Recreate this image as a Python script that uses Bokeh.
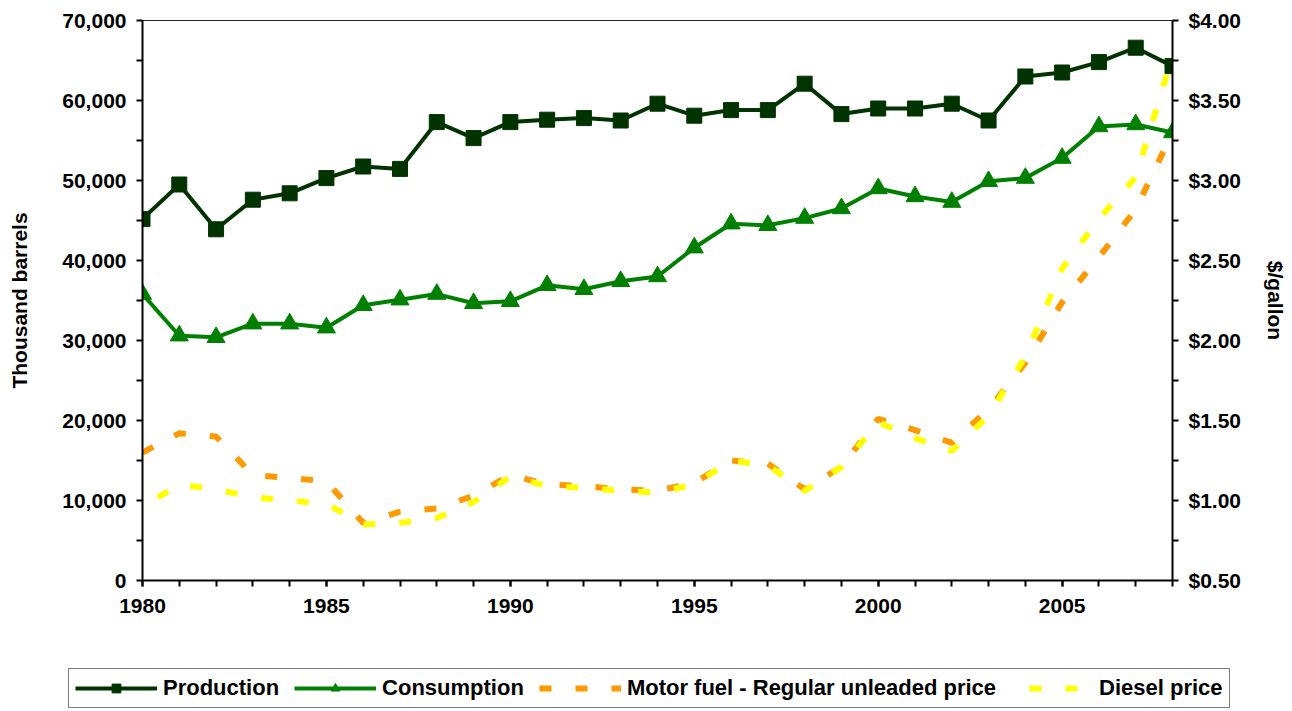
from bokeh.plotting import figure
from bokeh.models import (Range1d, LinearAxis, FixedTicker, NumeralTickFormatter,
                          Legend, LegendItem)
from bokeh.embed import file_html
from bokeh.resources import INLINE

# ---- data ----
years = list(range(1980, 2009))
production = [45200, 49500, 43900, 47600, 48400, 50300, 51750, 51450, 57300, 55300,
              57300, 57600, 57800, 57500, 59600, 58100, 58800, 58800, 62100, 58300,
              59000, 59000, 59600, 57500, 63000, 63500, 64800, 66600, 64300]
consumption = [35800, 30600, 30400, 32100, 32100, 31600, 34400, 35100, 35800, 34650,
               34900, 36900, 36400, 37400, 38000, 41600, 44600, 44400, 45300, 46500,
               49000, 48000, 47300, 49900, 50300, 52800, 56750, 57000, 56000]
motor_fuel_price = [1.30, 1.42, 1.40, 1.16, 1.14, 1.12, 0.86, 0.93, 0.95, 1.03,
                    1.16, 1.10, 1.09, 1.07, 1.06, 1.11, 1.25, 1.23, 1.07, 1.21,
                    1.51, 1.44, 1.36, 1.57, 1.86, 2.24, 2.52, 2.82, 3.30]
diesel_price = [0.96, 1.10, 1.07, 1.02, 1.00, 0.98, 0.85, 0.86, 0.89, 0.99,
                1.15, 1.09, 1.08, 1.06, 1.05, 1.10, 1.25, 1.22, 1.06, 1.21,
                1.49, 1.39, 1.31, 1.53, 1.90, 2.45, 2.76, 3.02, 3.78]
series_labels = ["Production", "Consumption",
                 "Motor fuel - Regular unleaded price", "Diesel price"]

x_major_ticks = [1980, 1985, 1990, 1995, 2000, 2005]
left_ticks = [0, 10000, 20000, 30000, 40000, 50000, 60000, 70000]
left_minor = [5000, 15000, 25000, 35000, 45000, 55000, 65000]
right_ticks = [0.5, 1.0, 1.5, 2.0, 2.5, 3.0, 3.5, 4.0]
right_minor = [0.75, 1.25, 1.75, 2.25, 2.75, 3.25, 3.75]

FONT = "Liberation Sans"


def draw_series(fig):
    pl = fig.line(years, production, line_color="#003300", line_width=4)
    pp = fig.scatter(years, production, marker="square", size=15,
                     fill_color="#003300", line_color="#003300")
    cl = fig.line(years, consumption, line_color="#008000", line_width=4)
    cp = fig.scatter(years, consumption, marker="triangle", size=18,
                     fill_color="#008000", line_color="#008000")
    ml = fig.line(years, motor_fuel_price, y_range_name="price",
                  line_color="#FF9900", line_width=6, line_dash="12 24")
    dl = fig.line(years, diesel_price, y_range_name="price",
                  line_color="#FFFF00", line_width=6, line_dash="12 24",
                  line_dash_offset=18)
    return [[pl, pp], [cl, cp], [ml], [dl]]


# ---------------- main chart ----------------
p = figure(width=1292, height=640, output_backend="svg", toolbar_location=None,
           title=None, x_range=Range1d(1980, 2008), y_range=Range1d(0, 70000),
           min_border_left=142, min_border_right=120, min_border_top=20,
           min_border_bottom=60)
p.extra_y_ranges = {"price": Range1d(0.5, 4.0)}
p.grid.visible = False
p.outline_line_color = "#222222"
p.outline_line_width = 1
p.background_fill_color = "white"
p.border_fill_color = "white"

right_axis = LinearAxis(y_range_name="price")
p.add_layout(right_axis, "right")

p.xaxis.ticker = FixedTicker(ticks=x_major_ticks, minor_ticks=years)
p.yaxis[0].ticker = FixedTicker(ticks=left_ticks, minor_ticks=left_minor)
right_axis.ticker = FixedTicker(ticks=right_ticks, minor_ticks=right_minor)
p.yaxis[0].formatter = NumeralTickFormatter(format="0,0")
right_axis.formatter = NumeralTickFormatter(format="$0.00")

p.yaxis[0].axis_label = "Thousand barrels"
right_axis.axis_label = "$/gallon"

for ax in [p.xaxis[0], p.yaxis[0], right_axis]:
    ax.axis_line_color = "black"
    ax.axis_line_width = 2
    ax.major_tick_line_color = "black"
    ax.major_tick_line_width = 2
    ax.minor_tick_line_color = "black"
    ax.minor_tick_line_width = 2
    ax.major_tick_out = 6
    ax.major_tick_in = 0
    ax.minor_tick_out = 6
    ax.minor_tick_in = 0
    ax.major_label_text_font = FONT
    ax.major_label_text_font_style = "bold"
    ax.major_label_text_font_size = "21px"
    ax.major_label_text_color = "black"
    ax.axis_label_text_font = FONT
    ax.axis_label_text_font_style = "bold"
    ax.axis_label_text_font_size = "21px"
    ax.axis_label_text_color = "black"

p.xaxis[0].major_label_standoff = 12
p.yaxis[0].major_label_standoff = 10
p.yaxis[0].axis_label_standoff = 28
right_axis.major_label_standoff = 10
right_axis.axis_label_standoff = 20

draw_series(p)

# ---------------- legend strip (separate root, full-width frame) ----------------
lg = figure(width=1292, height=71, output_backend="svg", toolbar_location=None,
            title=None, x_range=Range1d(0, 1), y_range=Range1d(0, 1),
            x_axis_location=None, y_axis_location=None, min_border=0)
lg.extra_y_ranges = {"price": Range1d(0, 1)}
lg.grid.visible = False
lg.outline_line_color = None
lg.background_fill_color = "white"
lg.border_fill_color = "white"
groups = draw_series(lg)   # same series, outside this strip's ranges

legend = Legend(items=[LegendItem(label=lab, renderers=rs)
                       for lab, rs in zip(series_labels, groups)],
                orientation="horizontal", location=(68, 3))
legend.label_text_font = FONT
legend.label_text_font_style = "bold"
legend.label_text_font_size = "22px"
legend.label_text_color = "black"
legend.glyph_width = 82
legend.glyph_height = 22
legend.label_standoff = 6
legend.spacing = 15
legend.padding = 6
legend.margin = 0
legend.border_line_color = "black"
legend.border_line_width = 1
legend.background_fill_color = "white"
legend.background_fill_alpha = 1
lg.add_layout(legend, "center")

open("out.html", "w").write(file_html([p, lg], INLINE))
